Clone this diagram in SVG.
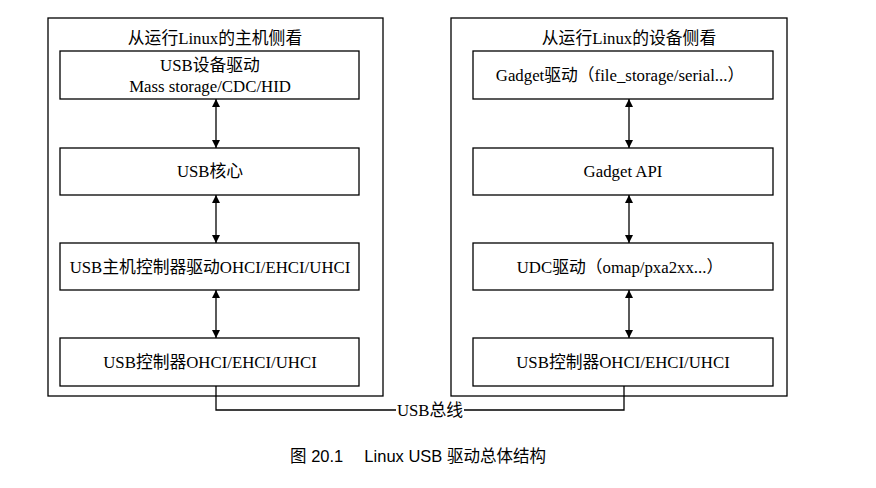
<svg xmlns="http://www.w3.org/2000/svg" width="876" height="488" viewBox="0 0 876 488">
<style>
.box{fill:#fff;stroke:#000;stroke-width:1.3}
.t{font-family:"Liberation Serif","Noto Sans CJK SC",serif;font-size:16.8px;fill:#000;text-anchor:middle}
.ln{stroke:#000;stroke-width:1.3;fill:none}
.cap{font-family:"Liberation Sans","Noto Sans CJK SC",sans-serif;font-size:16.5px;fill:#000;text-anchor:middle}
</style>
<defs>
<marker id="ah" viewBox="0 0 10 10" refX="10" refY="5" markerWidth="8" markerHeight="8" markerUnits="userSpaceOnUse" orient="auto-start-reverse">
<path d="M0,0 L10,5 L0,10 z" fill="#000"/>
</marker>
</defs>
<rect width="876" height="488" fill="#fff"/>
<g id="host">
<rect class="box" x="48" y="18" width="335" height="378"/>
<text class="t" x="215" y="44">从运行Linux的主机侧看</text>
</g>
<g id="device">
<rect class="box" x="451" y="18" width="336" height="378"/>
<text class="t" x="629" y="44">从运行Linux的设备侧看</text>
</g>
<g id="h1"><rect class="box" x="60" y="51" width="299" height="48"/><text class="t" x="210" y="71">USB设备驱动</text><text class="t" x="210" y="92">Mass storage/CDC/HID</text></g>
<g id="h2"><rect class="box" x="60" y="148" width="299" height="47"/><text class="t" x="210" y="177">USB核心</text></g>
<g id="h3"><rect class="box" x="60" y="243" width="299" height="47"/><text class="t" x="210" y="273">USB主机控制器驱动OHCI/EHCI/UHCI</text></g>
<g id="h4"><rect class="box" x="60" y="338" width="299" height="48"/><text class="t" x="210" y="368">USB控制器OHCI/EHCI/UHCI</text></g>
<g id="d1"><rect class="box" x="473" y="51" width="300" height="48"/><text class="t" x="620" y="81">Gadget驱动（file_storage/serial...）</text></g>
<g id="d2"><rect class="box" x="473" y="148" width="300" height="47"/><text class="t" x="623" y="177">Gadget API</text></g>
<g id="d3"><rect class="box" x="473" y="243" width="300" height="47"/><text class="t" x="620" y="273">UDC驱动（omap/pxa2xx...）</text></g>
<g id="d4"><rect class="box" x="473" y="338" width="300" height="48"/><text class="t" x="623" y="368">USB控制器OHCI/EHCI/UHCI</text></g>
<g id="connectors">
<line class="ln" x1="216" y1="99" x2="216" y2="148" marker-start="url(#ah)" marker-end="url(#ah)"/>
<line class="ln" x1="216" y1="195" x2="216" y2="243" marker-start="url(#ah)" marker-end="url(#ah)"/>
<line class="ln" x1="216" y1="290" x2="216" y2="338" marker-start="url(#ah)" marker-end="url(#ah)"/>
<line class="ln" x1="629" y1="99" x2="629" y2="148" marker-start="url(#ah)" marker-end="url(#ah)"/>
<line class="ln" x1="629" y1="195" x2="629" y2="243" marker-start="url(#ah)" marker-end="url(#ah)"/>
<line class="ln" x1="629" y1="290" x2="629" y2="338" marker-start="url(#ah)" marker-end="url(#ah)"/>
<polyline class="ln" points="216,386 216,410 396,410"/>
<polyline class="ln" points="464,410 624,410 624,386"/>
<text class="t" x="430" y="416">USB总线</text>
</g>
<text class="cap" x="418" y="462">图 20.1　 Linux USB  驱动总体结构</text>
</svg>
